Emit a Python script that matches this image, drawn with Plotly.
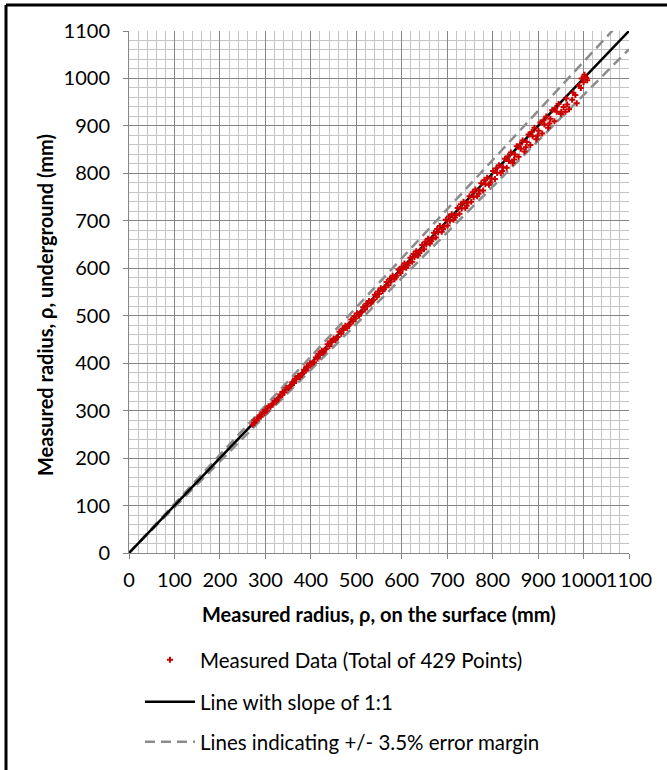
import plotly.graph_objects as go

surface_mm = [272,276,281,285,290,294,298,303,307,311,316,320,324,329,333,337,342,346,350,355,
              359,363,368,372,376,381,385,389,394,398,402,407,411,415,420,424,428,433,437,441,
              446,450,454,459,463,467,472,476,480,485,489,493,498,502,506,511,515,519,524,528,
              532,537,541,545,550,554,558,563,567,571,576,580,584,589,593,597,602,606,610,615,
              619,623,628,632,636,641,645,649,654,658,662,667,671,675,680,684,688,693,697,701,
              706,710,714,719,723,727,732,736,740,745,749,753,758,762,766,771,775,779,784,788,
              792,797,801,805,810,814,818,823,827,831,836,840,844,849,853,857,862,866,870,875,
              879,883,888,892,896,901,905,909,914,918,922,927,931,936,941,945,950,956,962,968,
              975,982,990,996,1000,1004,1008,1002,985,960,
              275,287,300,312,326,338,352,365,378,391,404,417,430,443,456,470,483,496,509,522,
              535,548,561,574,587,600,613,626,639,652,665,678,691,704,717,730,743,756,769,782,
              795,808,821,834,847,860,873,886,899,912,925,938,951,964,977,994,1006]
underground_mm = [270,279,280,286,287,296,295,300,309,308,313,321,320,327,334,333,339,348,347,352,
                  360,358,366,373,371,377,386,384,391,400,398,402,412,410,417,426,422,430,440,436,
                  444,452,449,455,466,462,470,479,474,482,492,488,494,505,500,508,518,513,520,531,
                  526,533,544,539,546,558,552,560,571,564,572,584,577,585,597,590,598,610,601,611,
                  622,614,624,636,627,637,649,640,650,662,652,662,675,665,676,689,677,688,702,690,
                  700,714,702,712,727,715,726,740,727,738,752,740,750,766,752,764,779,764,777,791,
                  776,789,805,788,801,817,800,813,831,812,826,844,822,840,857,835,852,869,846,866,
                  882,860,878,896,872,890,907,884,903,920,896,915,933,910,930,946,925,940,958,935,
                  955,965,985,1000,992,1003,996,1008,948,930,
                  274,290,302,311,323,340,349,367,375,393,401,420,427,446,452,473,479,499,505,525,
                  530,551,556,578,581,603,606,630,632,656,657,683,683,709,707,735,732,760,757,786,
                  781,811,805,836,829,861,855,887,880,912,905,938,930,945,970,980,1001]

# Reference lines
ref_x = [0, 1100]
margin_pct = 3.5

ticks = list(range(0, 1101, 100))
tick_text = [str(t) for t in ticks]

x_title = "Measured radius, ρ, on the surface (mm)"
y_title = "Measured radius, ρ, underground (mm)"

FONT = "Lato"

fig = go.Figure()

upper = [v * (1 + margin_pct / 100) for v in ref_x]
lower = [v * (1 - margin_pct / 100) for v in ref_x]

fig.add_trace(go.Scatter(x=ref_x, y=upper, mode="lines",
                         line=dict(color="#8c8c8c", width=2.5, dash="10px,6px"),
                         name="Lines indicating +/- 3.5% error margin",
                         legend="legend3", hoverinfo="skip"))
fig.add_trace(go.Scatter(x=ref_x, y=lower, mode="lines",
                         line=dict(color="#8c8c8c", width=2.5, dash="10px,6px"),
                         showlegend=False, hoverinfo="skip"))
fig.add_trace(go.Scatter(x=ref_x, y=ref_x, mode="lines",
                         line=dict(color="black", width=2.5),
                         name="Line with slope of 1:1",
                         legend="legend2", hoverinfo="skip"))
fig.add_trace(go.Scatter(x=surface_mm, y=underground_mm, mode="markers",
                         marker=dict(symbol="cross", size=5, color="#cc0000", line=dict(width=0)),
                         name="Measured Data (Total of 429 Points)",
                         legend="legend", hoverinfo="skip"))

axis_common = dict(
    range=[0, 1100], tickmode="array", tickvals=ticks, ticktext=tick_text,
    showgrid=True, gridcolor="#858585", gridwidth=1,
    minor=dict(dtick=20, showgrid=True, gridcolor="#c4c4c4", gridwidth=1, ticks=""),
    showline=True, linecolor="#858585", linewidth=1,
    ticks="outside", ticklen=5, tickcolor="#858585",
    zeroline=False, tickfont=dict(family=FONT, size=20, color="black"),
    tickangle=0, automargin=False, fixedrange=True,
)

fig.update_xaxes(**axis_common, ticklabelstandoff=4)
fig.update_yaxes(**axis_common, ticklabelstandoff=9)

leg_common = dict(xref="container", yref="container", x=140 / 667, xanchor="left",
                  yanchor="middle", itemwidth=50, bgcolor="rgba(0,0,0,0)",
                  font=dict(family=FONT, size=20.5, color="black"), borderwidth=0)

fig.update_layout(
    width=667, height=770,
    margin=dict(l=129, r=38, t=31, b=217, autoexpand=False),
    plot_bgcolor="white", paper_bgcolor="white",
    legend=dict(**leg_common, y=1 - 660 / 770),
    legend2=dict(**leg_common, y=1 - 702 / 770),
    legend3=dict(**leg_common, y=1 - 742 / 770),
    annotations=[
        dict(text="<b>" + x_title + "</b>", xref="paper", yref="paper",
             x=0.5, y=(553 - 614) / 522, xanchor="center", yanchor="middle",
             showarrow=False, font=dict(family=FONT, size=20, color="black")),
        dict(text="<b>" + y_title + "</b>", xref="paper", yref="paper",
             x=(45 - 129) / 500, y=(553 - 305) / 522, xanchor="center", yanchor="middle",
             textangle=-90, showarrow=False, font=dict(family=FONT, size=20, color="black")),
    ],
    shapes=[
        dict(type="line", xref="paper", yref="paper", x0=(6 - 129) / 500, x1=(667 - 129) / 500,
             y0=(553 - 5) / 522, y1=(553 - 5) / 522, line=dict(color="black", width=3)),
        dict(type="line", xref="paper", yref="paper", x0=(6 - 129) / 500, x1=(6 - 129) / 500,
             y0=(553 - 5) / 522, y1=(553 - 770) / 522, line=dict(color="black", width=3)),
    ],
)

fig.write_html("out.html")
